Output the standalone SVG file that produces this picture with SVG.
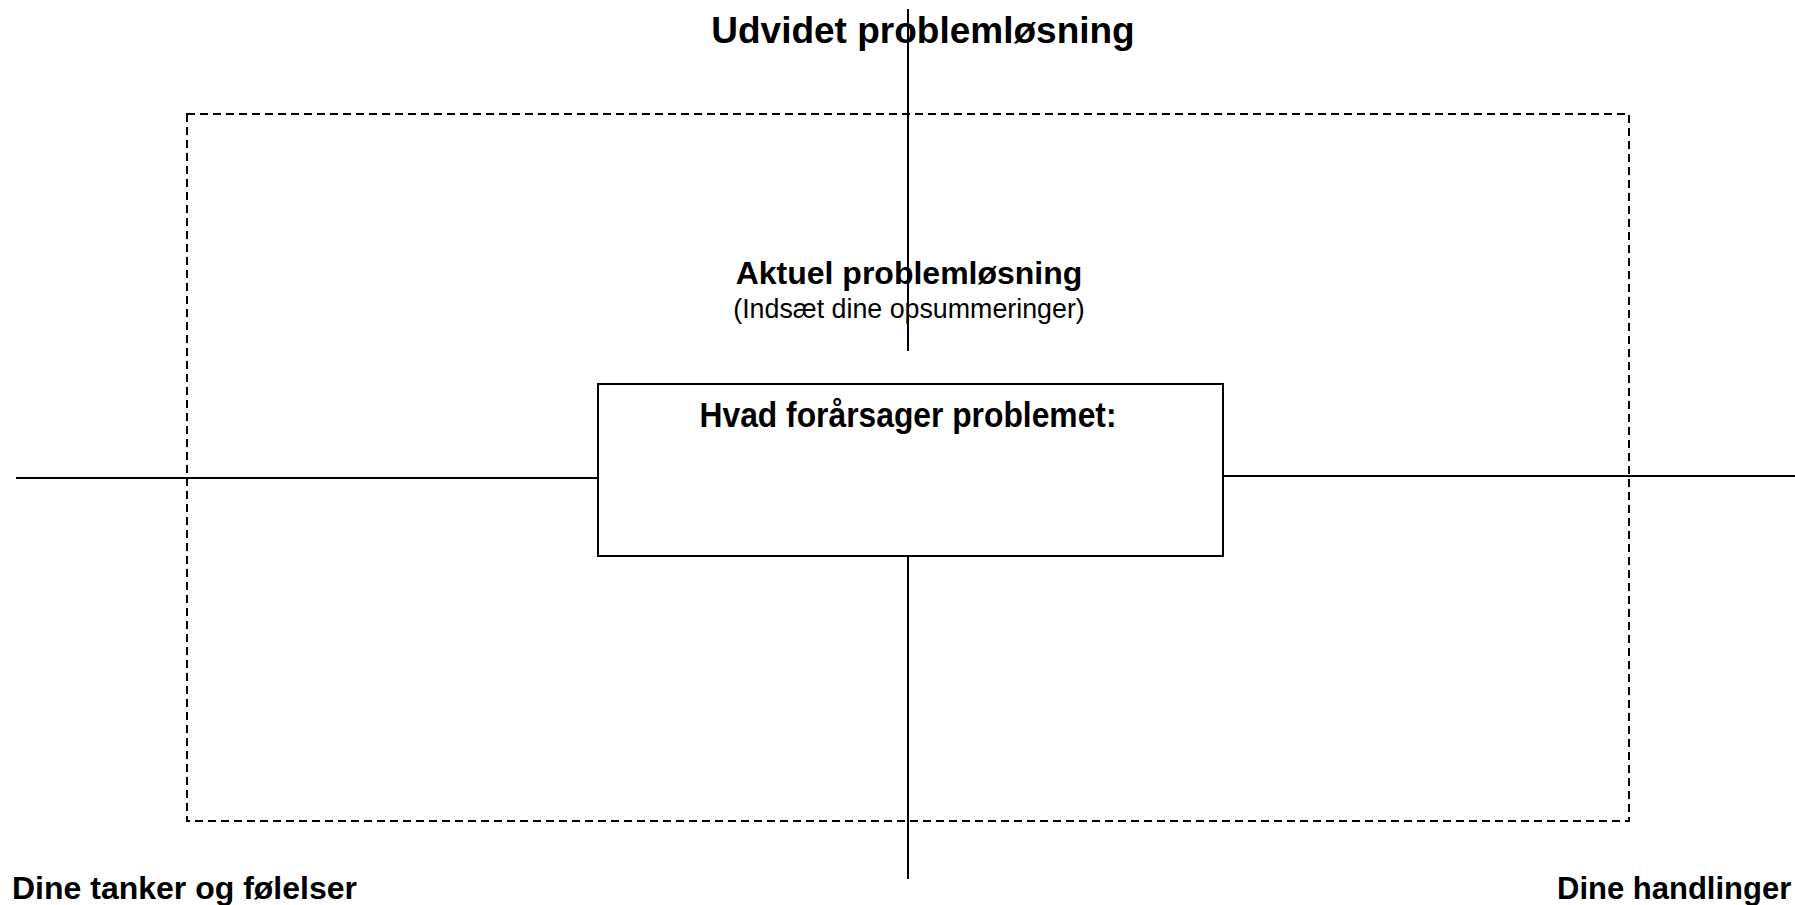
<svg xmlns="http://www.w3.org/2000/svg" width="1795" height="905" viewBox="0 0 1795 905">
<style>
.b{font-family:"Liberation Sans",Arial,sans-serif;font-weight:bold;fill:#000}
.r{font-family:"Liberation Sans",Arial,sans-serif;fill:#000}
.ln{stroke:#000;stroke-width:2;fill:none}
.dash{stroke:#000;stroke-width:2;fill:none;stroke-dasharray:8 5}
</style>
<rect width="1795" height="905" fill="#fff"/>
<g id="frame">
<rect class="dash" x="187" y="114" width="1442" height="707"/>
</g>
<g id="connectors">
<line class="ln" x1="908" y1="9" x2="908" y2="351"/>
<line class="ln" x1="908" y1="556" x2="908" y2="879"/>
<line class="ln" x1="16" y1="478" x2="598" y2="478"/>
<line class="ln" x1="1223" y1="476" x2="1795" y2="476"/>
</g>
<g id="title">
<text class="b" x="923" y="43" font-size="37" text-anchor="middle">Udvidet problemløsning</text>
</g>
<g id="current">
<text class="b" x="909" y="284" font-size="32" text-anchor="middle">Aktuel problemløsning</text>
<text class="r" x="909" y="318" font-size="26.8" text-anchor="middle">(Indsæt dine opsummeringer)</text>
</g>
<g id="cause">
<rect class="ln" x="598" y="384" width="625" height="172" fill="#fff"/>
<text class="b" x="908" y="427" font-size="35" text-anchor="middle" textLength="417" lengthAdjust="spacingAndGlyphs">Hvad forårsager problemet:</text>
</g>
<g id="thoughts">
<text class="b" x="12" y="899" font-size="32">Dine tanker og følelser</text>
</g>
<g id="actions">
<text class="b" x="1557" y="899" font-size="31">Dine handlinger</text>
</g>
</svg>
